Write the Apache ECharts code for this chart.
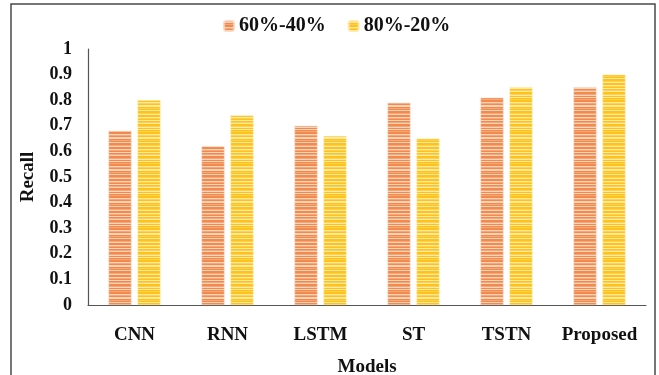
<!DOCTYPE html>
<html>
<head>
<meta charset="utf-8">
<script src="https://cdn.jsdelivr.net/npm/echarts@6/dist/echarts.min.js"></script>
<style>
  html, body { margin: 0; padding: 0; background: #ffffff; }
  #chart { width: 659px; height: 375px; }
</style>
</head>
<body>
<div id="chart"></div>
<script>
// Models compared and their recall under the two train/test splits
const models = ['CNN', 'RNN', 'LSTM', 'ST', 'TSTN', 'Proposed'];
const split6040 = [0.68, 0.62, 0.70, 0.79, 0.81, 0.85];
const split8020 = [0.80, 0.74, 0.66, 0.65, 0.85, 0.90];
const seriesNames = ['60%-40%', '80%-20%'];
const yTicks = { min: 0, max: 1, interval: 0.1 };

const FONT = "'Liberation Serif', 'Times New Roman', serif";

// Horizontally striped fill, light and dark bands of one hue
function stripes(dark, mid, light) {
  const rows = [dark, light, dark, mid, dark, dark, light, mid, dark, light, light, dark, mid, dark, light, dark,
                dark, mid, light, dark, dark, light, mid, dark, light, dark, mid, light, dark, dark, mid, light];
  const c = document.createElement('canvas');
  c.width = 4;
  c.height = rows.length;
  const g = c.getContext('2d');
  rows.forEach((col, i) => { g.fillStyle = col; g.fillRect(0, i, 4, 1); });
  return { image: c, repeat: 'repeat' };
}

const orangeFill = stripes('#F28A4E', '#F5A77A', '#FAD3BB');
const yellowFill = stripes('#FFC21A', '#FFD24D', '#FFE9A6');

const chart = echarts.init(document.getElementById('chart'), null, { renderer: 'canvas' });

chart.setOption({
  backgroundColor: '#ffffff',
  animation: false,
  graphic: [{
    // frame around the figure; its bottom edge runs past the canvas
    type: 'rect',
    shape: { x: 11, y: 4, width: 644, height: 380 },
    style: { fill: 'none', stroke: '#4a4a4a', lineWidth: 1.5 },
    silent: true
  }],
  legend: {
    data: seriesNames,
    left: 218,
    top: 11,
    itemWidth: 10,
    itemHeight: 10,
    itemGap: 22,
    textStyle: { fontFamily: FONT, fontWeight: 'bold', fontSize: 20, color: '#111' }
  },
  grid: { left: 88, right: 13, top: 49, bottom: 70, containLabel: false, outerBoundsMode: 'none' },
  xAxis: {
    type: 'category',
    data: models,
    name: 'Models',
    nameLocation: 'middle',
    nameGap: 53,
    nameTextStyle: { fontFamily: FONT, fontWeight: 'bold', fontSize: 19, color: '#111' },
    axisLine: { lineStyle: { color: '#555', width: 1.2 } },
    axisTick: { show: false },
    axisLabel: { interval: 0, margin: 21, fontFamily: FONT, fontWeight: 'bold', fontSize: 19, color: '#111' }
  },
  yAxis: {
    type: 'value',
    min: yTicks.min,
    max: yTicks.max,
    interval: yTicks.interval,
    name: 'Recall',
    nameLocation: 'middle',
    nameGap: 50,
    nameRotate: 90,
    nameTextStyle: { fontFamily: FONT, fontWeight: 'bold', fontSize: 19, color: '#111' },
    axisLine: { show: true, lineStyle: { color: '#555', width: 1.2 } },
    axisTick: { show: false },
    splitLine: { show: false },
    axisLabel: { margin: 16, fontFamily: FONT, fontWeight: 'bold', fontSize: 18, color: '#111' }
  },
  series: [
    {
      name: seriesNames[0],
      type: 'bar',
      data: split6040,
      barWidth: 23,
      barGap: '26%',
      itemStyle: { color: orangeFill, borderColor: 'rgba(250,210,185,0.8)', borderWidth: 0.6 }
    },
    {
      name: seriesNames[1],
      type: 'bar',
      data: split8020,
      barWidth: 23,
      itemStyle: { color: yellowFill, borderColor: 'rgba(255,230,160,0.8)', borderWidth: 0.6 }
    }
  ]
});
</script>
</body>
</html>
